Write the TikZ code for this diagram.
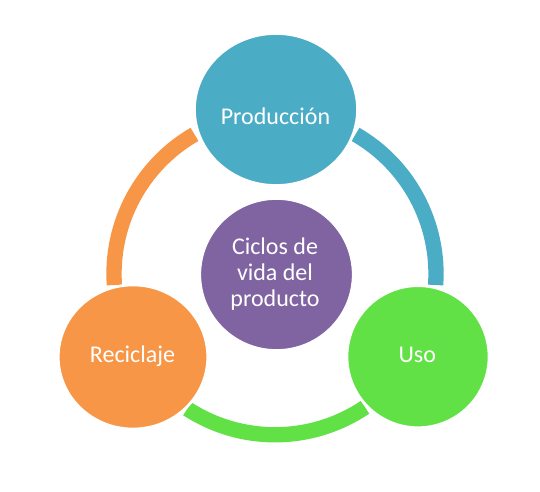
\documentclass[tikz,border=0pt]{standalone}
\usepackage{fontspec}
\setmainfont{Carlito}
\usetikzlibrary{shapes.geometric}
\definecolor{cteal}{HTML}{4BACC6}
\definecolor{corange}{HTML}{F79646}
\definecolor{cgreen}{HTML}{62E146}
\definecolor{cpurple}{HTML}{8064A2}
\tikzset{
  ring/.style={line width=11.5pt, line cap=butt},
  blob/.style={ellipse, draw=white, line width=2pt, inner sep=0pt},
  lbl/.style={text=white, font=\fontsize{18}{20}\selectfont, inner sep=0pt, anchor=base},
}
\begin{document}
\begin{tikzpicture}[x=0.75pt,y=0.75pt]
\useasboundingbox (0,0) rectangle (540,492);
\coordinate (C) at (275,218.2);
% ring arcs
\draw[ring, cteal]   ([shift={(-4:161)}]C) arc[start angle=-4, end angle=60, radius=161];
\draw[ring, corange] ([shift={(120:161)}]C) arc[start angle=120, end angle=184, radius=161];
\draw[ring, cgreen]  ([shift={(237:161)}]C) arc[start angle=237, end angle=304, radius=161];
% circles
\node[blob, fill=cteal, minimum width=163*0.75pt, minimum height=152*0.75pt] (prod) at (276,382.5) {};
\node[blob, fill=corange, minimum width=149.4*0.75pt, minimum height=144*0.75pt] (reci) at (133,135) {};
\node[blob, fill=cgreen, minimum width=142*0.75pt, minimum height=142*0.75pt] (uso) at (418,135.3) {};
\node[blob, fill=cpurple, minimum width=153.4*0.75pt, minimum height=152*0.75pt] (ciclo) at (276.5,217.5) {};
% labels
\node[lbl] (tprod) at (275.5,367) {Producción};
\node[lbl] (treci) at (132.5,129.7) {Reciclaje};
\node[lbl] (tuso) at (417.3,129.7) {Uso};
\node[lbl] (tc1) at (275,237.7) {Ciclos de};
\node[lbl] (tc2) at (275,211) {vida del};
\node[lbl] (tc3) at (275,185) {producto};
\end{tikzpicture}
\end{document}
